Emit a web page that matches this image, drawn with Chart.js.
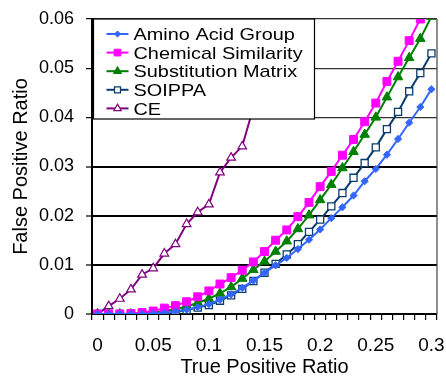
<!DOCTYPE html>
<html>
<head>
<meta charset="utf-8">
<script src="https://cdn.jsdelivr.net/npm/chart.js@4.4.0/dist/chart.umd.min.js"></script>
<style>
html, body { margin: 0; padding: 0; background: #fff; }
</style>
</head>
<body>
<canvas id="roc" width="446" height="377"></canvas>
<script>
// ===== DATA =====
const tpr = ['0', '0.01', '0.02', '0.03', '0.04', '0.05', '0.06', '0.07', '0.08', '0.09',
  '0.1', '0.11', '0.12', '0.13', '0.14', '0.15', '0.16', '0.17', '0.18', '0.19',
  '0.2', '0.21', '0.22', '0.23', '0.24', '0.25', '0.26', '0.27', '0.28', '0.29', '0.3'];
const xTickLabels = ['0', '0.05', '0.1', '0.15', '0.2', '0.25', '0.3'];
const yTickLabels = ['0', '0.01', '0.02', '0.03', '0.04', '0.05', '0.06'];

const seriesNames = ['Amino Acid Group', 'Chemical Similarity', 'Substitution Matrix', 'SOIPPA', 'CE'];

const aminoGroup = [0, 0, 0, 0, 0, 0.0001, 0.0002, 0.0005, 0.0009, 0.0014,
  0.002, 0.0029, 0.004, 0.0053, 0.0068, 0.0084, 0.0099, 0.0114, 0.0132, 0.0151,
  0.0172, 0.0195, 0.0217, 0.0241, 0.027, 0.0295, 0.0324, 0.0356, 0.0389, 0.0421, 0.0457];
const chemSimilarity = [0, 0, 0, 0.0001, 0.0003, 0.0006, 0.0012, 0.0017, 0.0025, 0.0035,
  0.0047, 0.0061, 0.0074, 0.0089, 0.0106, 0.0127, 0.015, 0.0171, 0.0198, 0.0227,
  0.0259, 0.029, 0.0323, 0.0355, 0.0391, 0.0429, 0.0473, 0.0514, 0.0556, 0.06, 0.0615];
const substMatrix = [0, 0, 0, 0, 0.0001, 0.0003, 0.0006, 0.001, 0.0015, 0.0023,
  0.0031, 0.0042, 0.0055, 0.0072, 0.009, 0.0107, 0.0127, 0.0148, 0.0173, 0.0201,
  0.0232, 0.0263, 0.0297, 0.033, 0.0365, 0.04, 0.0441, 0.0482, 0.0521, 0.056, 0.0605];
const soippa = [0, 0, 0, 0, 0, 0, 0.0001, 0.0004, 0.0008, 0.0013,
  0.0018, 0.0027, 0.0038, 0.0051, 0.0067, 0.0084, 0.0102, 0.0121, 0.0142, 0.0167,
  0.0192, 0.0219, 0.0246, 0.0277, 0.0307, 0.0339, 0.0376, 0.0411, 0.0453, 0.049, 0.053];
const ce = [0, 0.0016, 0.0031, 0.005, 0.008, 0.0093, 0.0123, 0.0142, 0.0183, 0.0207,
  0.0223, 0.0288, 0.0318, 0.0341, 0.042, 0.05, 0.058, 0.066];

// ===== STYLE =====
const FONT = '"Liberation Sans", Arial, sans-serif';
Chart.defaults.font.family = FONT;
Chart.defaults.color = '#000';

const styles = [
  { color: '#3366FF', fill: '#3366FF', point: 'rectRot', r: 3.6, bw: 1 },
  { color: '#FF00FF', fill: '#FF00FF', point: 'rect', r: 5.6, bw: 1 },
  { color: '#008000', fill: '#008000', point: 'triangle', r: 5.5, bw: 1 },
  { color: '#0A3C6E', fill: '#FFFFFF', point: 'rect', r: 5, bw: 1.3 },
  { color: '#800080', fill: '#FFFFFF', point: 'triangle', r: 5, bw: 1.2 },
];
const values = [aminoGroup, chemSimilarity, substMatrix, soippa, ce];

// draws a marker the same way chart.js does, for the legend
function marker(ctx, type, x, y, r) {
  ctx.beginPath();
  if (type === 'rect') {
    const s = Math.SQRT1_2 * r;
    ctx.rect(x - s, y - s, 2 * s, 2 * s);
  } else if (type === 'rectRot') {
    ctx.moveTo(x - r, y); ctx.lineTo(x, y - r); ctx.lineTo(x + r, y); ctx.lineTo(x, y + r);
    ctx.closePath();
  } else {
    ctx.moveTo(x, y - r);
    ctx.lineTo(x + Math.sin(2 * Math.PI / 3) * r, y + r / 2);
    ctx.lineTo(x - Math.sin(2 * Math.PI / 3) * r, y + r / 2);
    ctx.closePath();
  }
  ctx.fill();
  ctx.stroke();
}

// legend box sits inside the plot, over the lines
const boxLegend = {
  id: 'boxLegend',
  afterDatasetsDraw(chart) {
    const { ctx, chartArea } = chart;
    const x0 = chartArea.left + 1.5, y0 = chartArea.top, w = 221, h = 100;
    ctx.save();
    // right frame
    ctx.strokeStyle = '#444';
    ctx.lineWidth = 1.2;
    ctx.beginPath();
    ctx.moveTo(chartArea.right, chartArea.top);
    ctx.lineTo(chartArea.right, chartArea.bottom);
    ctx.stroke();

    ctx.fillStyle = '#fff';
    ctx.fillRect(x0, y0, w, h);
    ctx.strokeStyle = '#000';
    ctx.lineWidth = 1.2;
    ctx.strokeRect(x0, y0, w, h);

    seriesNames.forEach((name, i) => {
      const st = styles[i];
      const cy = y0 + 15 + i * 18.6;
      ctx.strokeStyle = st.color;
      ctx.lineWidth = 2;
      ctx.beginPath();
      ctx.moveTo(x0 + 13, cy);
      ctx.lineTo(x0 + 35, cy);
      ctx.stroke();
      ctx.fillStyle = st.fill;
      ctx.lineWidth = st.bw;
      marker(ctx, st.point, x0 + 24, cy, st.r * 0.85);

      ctx.save();
      ctx.translate(x0 + 40, cy + 6.2);
      ctx.scale(1.17, 1);
      ctx.fillStyle = '#000';
      ctx.font = '17px ' + FONT;
      ctx.textBaseline = 'alphabetic';
      ctx.fillText(name, 0, 0);
      ctx.restore();
    });
    ctx.restore();
  }
};

new Chart(document.getElementById('roc'), {
  type: 'line',
  data: {
    labels: tpr,
    datasets: values.map((v, i) => ({
      label: seriesNames[i],
      data: v,
      borderColor: styles[i].color,
      backgroundColor: styles[i].fill,
      pointBackgroundColor: styles[i].fill,
      pointBorderColor: styles[i].color,
      pointBorderWidth: styles[i].bw,
      pointStyle: styles[i].point,
      pointRadius: styles[i].r,
      borderWidth: 2,
      tension: 0,
      fill: false,
    })),
  },
  options: {
    responsive: false,
    animation: false,
    layout: { padding: { top: 19, right: 9, left: 0, bottom: 0 } },
    plugins: { legend: { display: false }, tooltip: { enabled: false } },
    scales: {
      x: {
        type: 'category',
        offset: true,
        afterFit: s => { s.height = 63; s.paddingLeft = 0; s.paddingRight = 0; },
        grid: { offset: true, drawOnChartArea: false, drawTicks: true, tickLength: 6, color: '#000', lineWidth: 1.2 },
        border: { display: true, color: '#000', width: 2 },
        ticks: {
          autoSkip: false, maxRotation: 0, padding: 14,
          font: { size: 19 },
          callback: (v, i) => (xTickLabels.includes(tpr[i]) ? tpr[i] : ''),
        },
        title: { display: true, text: 'True Positive Ratio', font: { size: 20, lineHeight: 1 }, padding: 0 },
      },
      y: {
        min: 0, max: 0.06,
        afterFit: s => { s.width = 92; s.paddingTop = 0; s.paddingBottom = 0; },
        afterBuildTicks: s => { s.ticks = yTickLabels.map(t => ({ value: Number(t) })); },
        grid: {
          color: c => (c.tick && c.tick.value >= 0.035 ? '#333' : '#000'),
          lineWidth: c => (c.tick && c.tick.value >= 0.035 ? 1.3 : 2),
          tickLength: 6, tickColor: '#000', tickWidth: 1.2,
        },
        border: { display: true, color: '#000', width: 2 },
        ticks: {
          padding: 12,
          font: { size: 18 },
          callback: (v, i) => yTickLabels[i],
        },
        title: { display: true, text: 'False Positive Ratio', font: { size: 20, lineHeight: 1 }, padding: { top: 11 } },
      },
    },
  },
  plugins: [boxLegend],
});
</script>
</body>
</html>
